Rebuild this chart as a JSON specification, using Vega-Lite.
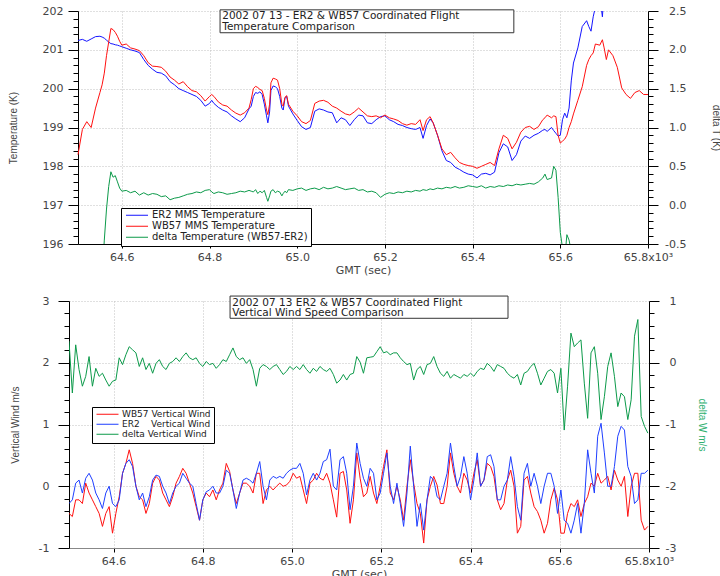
{
"$schema": "https://vega.github.io/schema/vega-lite/v6.json",
"background": "white",
"padding": {"left": 8, "top": 5, "right": 0, "bottom": 0},
"spacing": 20,
"config": {
  "view": {"stroke": null},
  "font": "DejaVu Sans",
  "axis": {"domainColor": "#000", "tickColor": "#000", "labelColor": "#444", "titleColor": "#444", "labelFont": "DejaVu Sans", "labelFontSize": 11, "titleFont": "DejaVu Sans", "titleFontSize": 11, "titleFontWeight": "normal", "gridColor": "#c0c0c0", "gridDash": [1, 2], "labelFlush": false, "labelOverlap": false},
  "legend": {"orient": "none", "title": null, "strokeColor": "#000", "fillColor": "#fff", "labelFont": "DejaVu Sans", "labelColor": "#222", "labelLimit": 0, "symbolStrokeWidth": 1, "symbolType": "M-0.75,0H4.75", "symbolSize": 64, "clipHeight": 8.5, "rowPadding": 0}
},
"datasets": {
"temp": [
{"t":64.50,"E":201.24,"W":198.30,"D":-2.0},{"t":64.51,"E":201.27,"W":198.95,"D":-2.0},{"t":64.52,"E":201.22,"W":199.15,"D":-1.9},{"t":64.53,"E":201.28,"W":199.00,"D":-1.8},{"t":64.54,"E":201.34,"W":199.50,"D":-1.5},{"t":64.55,"E":201.35,"W":199.90,"D":-1.1},{"t":64.555,"E":201.33,"W":200.10,"D":-0.9},{"t":64.56,"E":201.30,"W":200.40,"D":-0.45},{"t":64.565,"E":201.25,"W":200.85,"D":-0.05},{"t":64.57,"E":201.20,"W":201.20,"D":0.24},{"t":64.575,"E":201.16,"W":201.55,"D":0.43},{"t":64.58,"E":201.15,"W":201.52,"D":0.36},{"t":64.585,"E":201.13,"W":201.45,"D":0.38},{"t":64.59,"E":201.12,"W":201.35,"D":0.30},{"t":64.595,"E":201.10,"W":201.22,"D":0.22},{"t":64.60,"E":201.08,"W":201.12,"D":0.18},{"t":64.61,"E":201.04,"W":201.15,"D":0.19},{"t":64.62,"E":201.00,"W":201.05,"D":0.16},{"t":64.63,"E":200.97,"W":201.02,"D":0.18},{"t":64.64,"E":200.93,"W":200.98,"D":0.13},{"t":64.65,"E":200.75,"W":200.85,"D":0.16},{"t":64.66,"E":200.60,"W":200.67,"D":0.13},{"t":64.67,"E":200.50,"W":200.58,"D":0.15},{"t":64.68,"E":200.42,"W":200.57,"D":0.14},{"t":64.69,"E":200.40,"W":200.55,"D":0.11},{"t":64.70,"E":200.33,"W":200.45,"D":0.12},{"t":64.71,"E":200.18,"W":200.30,"D":0.07},{"t":64.72,"E":200.10,"W":200.22,"D":0.09},{"t":64.73,"E":200.00,"W":200.12,"D":0.10},{"t":64.74,"E":199.95,"W":200.18,"D":0.12},{"t":64.75,"E":199.90,"W":200.05,"D":0.14},{"t":64.76,"E":199.85,"W":199.95,"D":0.15},{"t":64.77,"E":199.80,"W":199.92,"D":0.17},{"t":64.78,"E":199.70,"W":199.82,"D":0.16},{"t":64.79,"E":199.55,"W":199.68,"D":0.19},{"t":64.80,"E":199.62,"W":199.80,"D":0.20},{"t":64.805,"E":199.70,"W":199.85,"D":0.17},{"t":64.81,"E":199.62,"W":199.80,"D":0.15},{"t":64.82,"E":199.52,"W":199.66,"D":0.17},{"t":64.83,"E":199.45,"W":199.58,"D":0.16},{"t":64.84,"E":199.40,"W":199.55,"D":0.14},{"t":64.85,"E":199.30,"W":199.45,"D":0.15},{"t":64.86,"E":199.22,"W":199.37,"D":0.16},{"t":64.87,"E":199.15,"W":199.32,"D":0.18},{"t":64.88,"E":199.25,"W":199.38,"D":0.17},{"t":64.89,"E":199.48,"W":199.50,"D":0.19},{"t":64.895,"E":199.55,"W":199.72,"D":0.18},{"t":64.90,"E":199.80,"W":200.00,"D":0.17},{"t":64.905,"E":199.90,"W":200.06,"D":0.20},{"t":64.91,"E":199.88,"W":200.03,"D":0.15},{"t":64.915,"E":199.92,"W":199.98,"D":0.18},{"t":64.92,"E":199.85,"W":199.95,"D":0.16},{"t":64.925,"E":199.60,"W":199.75,"D":0.19},{"t":64.93,"E":199.30,"W":199.45,"D":0.10},{"t":64.933,"E":199.12,"W":199.33,"D":0.05},{"t":64.937,"E":199.40,"W":199.60,"D":0.12},{"t":64.94,"E":199.95,"W":200.15,"D":0.18},{"t":64.945,"E":200.07,"W":200.27,"D":0.20},{"t":64.95,"E":200.05,"W":200.25,"D":0.16},{"t":64.955,"E":200.00,"W":200.22,"D":0.18},{"t":64.96,"E":199.80,"W":200.00,"D":0.17},{"t":64.965,"E":199.50,"W":199.60,"D":0.12},{"t":64.968,"E":199.45,"W":199.55,"D":0.15},{"t":64.972,"E":199.75,"W":199.78,"D":0.18},{"t":64.976,"E":199.80,"W":199.82,"D":0.16},{"t":64.98,"E":199.55,"W":199.60,"D":0.20},{"t":64.99,"E":199.35,"W":199.42,"D":0.19},{"t":65.00,"E":199.18,"W":199.30,"D":0.21},{"t":65.01,"E":199.02,"W":199.15,"D":0.22},{"t":65.02,"E":198.95,"W":199.10,"D":0.19},{"t":65.03,"E":199.00,"W":199.18,"D":0.21},{"t":65.04,"E":199.42,"W":199.62,"D":0.22},{"t":65.05,"E":199.48,"W":199.68,"D":0.20},{"t":65.06,"E":199.45,"W":199.70,"D":0.23},{"t":65.07,"E":199.40,"W":199.65,"D":0.21},{"t":65.08,"E":199.38,"W":199.55,"D":0.22},{"t":65.09,"E":199.12,"W":199.50,"D":0.24},{"t":65.10,"E":199.25,"W":199.42,"D":0.22},{"t":65.11,"E":199.20,"W":199.35,"D":0.20},{"t":65.12,"E":199.05,"W":199.32,"D":0.21},{"t":65.13,"E":199.20,"W":199.40,"D":0.22},{"t":65.14,"E":199.32,"W":199.50,"D":0.19},{"t":65.15,"E":199.30,"W":199.40,"D":0.20},{"t":65.16,"E":199.12,"W":199.30,"D":0.17},{"t":65.17,"E":199.10,"W":199.28,"D":0.18},{"t":65.18,"E":199.20,"W":199.30,"D":0.16},{"t":65.19,"E":199.28,"W":199.25,"D":0.10},{"t":65.20,"E":199.30,"W":199.32,"D":0.14},{"t":65.21,"E":199.20,"W":199.25,"D":0.16},{"t":65.22,"E":199.15,"W":199.22,"D":0.15},{"t":65.23,"E":199.08,"W":199.18,"D":0.17},{"t":65.24,"E":199.05,"W":199.10,"D":0.16},{"t":65.25,"E":199.00,"W":199.06,"D":0.18},{"t":65.26,"E":198.97,"W":199.10,"D":0.17},{"t":65.27,"E":198.95,"W":199.08,"D":0.19},{"t":65.28,"E":199.00,"W":199.20,"D":0.18},{"t":65.287,"E":198.72,"W":198.92,"D":0.20},{"t":65.295,"E":199.05,"W":199.20,"D":0.19},{"t":65.303,"E":199.22,"W":199.28,"D":0.21},{"t":65.31,"E":199.12,"W":199.12,"D":0.20},{"t":65.32,"E":198.80,"W":198.80,"D":0.22},{"t":65.33,"E":198.40,"W":198.45,"D":0.21},{"t":65.34,"E":198.15,"W":198.30,"D":0.23},{"t":65.35,"E":198.10,"W":198.36,"D":0.22},{"t":65.36,"E":197.98,"W":198.22,"D":0.24},{"t":65.37,"E":197.92,"W":198.10,"D":0.22},{"t":65.38,"E":197.85,"W":198.05,"D":0.23},{"t":65.39,"E":197.80,"W":198.02,"D":0.25},{"t":65.40,"E":197.78,"W":198.00,"D":0.24},{"t":65.41,"E":197.70,"W":197.95,"D":0.23},{"t":65.42,"E":197.80,"W":198.00,"D":0.25},{"t":65.43,"E":197.82,"W":198.05,"D":0.22},{"t":65.44,"E":197.78,"W":198.10,"D":0.24},{"t":65.45,"E":197.85,"W":198.02,"D":0.23},{"t":65.46,"E":198.35,"W":198.45,"D":0.25},{"t":65.47,"E":198.58,"W":198.80,"D":0.24},{"t":65.48,"E":198.50,"W":198.72,"D":0.26},{"t":65.49,"E":198.15,"W":198.45,"D":0.25},{"t":65.50,"E":198.30,"W":198.62,"D":0.27},{"t":65.51,"E":198.65,"W":198.88,"D":0.26},{"t":65.52,"E":198.78,"W":199.00,"D":0.27},{"t":65.53,"E":198.72,"W":199.03,"D":0.28},{"t":65.54,"E":198.80,"W":198.95,"D":0.27},{"t":65.55,"E":198.85,"W":199.02,"D":0.30},{"t":65.56,"E":198.93,"W":199.20,"D":0.35},{"t":65.565,"E":198.95,"W":199.25,"D":0.40},{"t":65.57,"E":198.90,"W":199.32,"D":0.33},{"t":65.58,"E":199.00,"W":199.25,"D":0.35},{"t":65.585,"E":198.92,"W":199.30,"D":0.50},{"t":65.59,"E":198.85,"W":199.28,"D":0.45},{"t":65.595,"E":198.78,"W":198.80,"D":0.10},{"t":65.60,"E":198.80,"W":198.60,"D":-0.35},{"t":65.605,"E":199.20,"W":198.65,"D":-0.55},{"t":65.61,"E":199.37,"W":198.70,"D":-0.70},{"t":65.615,"E":199.25,"W":198.80,"D":-0.38},{"t":65.62,"E":199.50,"W":199.00,"D":-0.45},{"t":65.625,"E":200.20,"W":199.15,"D":-0.60},{"t":65.63,"E":200.66,"W":199.35,"D":-0.9},{"t":65.64,"E":201.05,"W":199.70,"D":-1.2},{"t":65.65,"E":201.60,"W":200.05,"D":-1.4},{"t":65.66,"E":201.75,"W":200.60,"D":-1.2},{"t":65.665,"E":201.60,"W":200.75,"D":-0.8},{"t":65.67,"E":201.48,"W":200.85,"D":-0.7},{"t":65.675,"E":201.85,"W":200.92,"D":-0.9},{"t":65.68,"E":202.10,"W":201.15,"D":-0.9},{"t":65.69,"E":202.40,"W":201.12,"D":-1.3},{"t":65.696,"E":201.85,"W":201.26,"D":-1.3},{"t":65.70,"E":202.50,"W":201.05,"D":-1.5},{"t":65.705,"E":202.70,"W":200.75,"D":-1.9},{"t":65.71,"E":202.70,"W":201.00,"D":-1.7},{"t":65.72,"E":202.80,"W":200.85,"D":-1.9},{"t":65.73,"E":202.90,"W":200.55,"D":-2.3},{"t":65.74,"E":202.90,"W":200.02,"D":-2.8},{"t":65.75,"E":203.00,"W":199.85,"D":-3.0},{"t":65.76,"E":203.00,"W":199.75,"D":-3.2},{"t":65.77,"E":203.00,"W":199.90,"D":-3.1},{"t":65.78,"E":203.00,"W":199.95,"D":-3.0},{"t":65.79,"E":203.00,"W":199.85,"D":-3.1},{"t":65.80,"E":203.00,"W":199.85,"D":-3.1}
],
"wind": [
{"t":64.5,"W":-0.44,"E":-0.28,"D":0.35},{"t":64.5075,"W":-0.49,"E":-0.22,"D":-0.49},{"t":64.515,"W":-0.22,"E":0.05,"D":0.29},{"t":64.5225,"W":-0.22,"E":0.10,"D":-0.11},{"t":64.53,"W":-0.28,"E":-0.11,"D":-0.38},{"t":64.5375,"W":0.05,"E":0.13,"D":-0.22},{"t":64.545,"W":-0.11,"E":0.21,"D":0.10},{"t":64.5525,"W":-0.22,"E":0.10,"D":-0.38},{"t":64.56,"W":-0.33,"E":-0.11,"D":-0.09},{"t":64.5675,"W":-0.44,"E":-0.22,"D":-0.22},{"t":64.575,"W":-0.65,"E":-0.36,"D":-0.17},{"t":64.5825,"W":-0.44,"E":-0.11,"D":-0.28},{"t":64.59,"W":-0.33,"E":0.0,"D":-0.38},{"t":64.5975,"W":-0.76,"E":-0.28,"D":-0.30},{"t":64.605,"W":-0.44,"E":-0.33,"D":-0.28},{"t":64.6125,"W":-0.17,"E":-0.22,"D":0.08},{"t":64.62,"W":0.21,"E":0.21,"D":-0.03},{"t":64.6275,"W":0.37,"E":0.37,"D":0.13},{"t":64.635,"W":0.59,"E":0.43,"D":0.26},{"t":64.6425,"W":0.37,"E":0.32,"D":0.21},{"t":64.65,"W":0.0,"E":0.0,"D":0.16},{"t":64.6575,"W":-0.17,"E":-0.22,"D":-0.06},{"t":64.665,"W":-0.22,"E":-0.11,"D":0.08},{"t":64.6725,"W":-0.44,"E":-0.33,"D":-0.11},{"t":64.68,"W":-0.28,"E":-0.17,"D":-0.01},{"t":64.6875,"W":0.05,"E":0.10,"D":-0.17},{"t":64.695,"W":0.16,"E":0.18,"D":-0.01},{"t":64.7025,"W":0.10,"E":0.16,"D":0.05},{"t":64.71,"W":-0.11,"E":0.0,"D":-0.06},{"t":64.7175,"W":-0.22,"E":-0.11,"D":-0.11},{"t":64.725,"W":-0.33,"E":-0.28,"D":-0.01},{"t":64.7325,"W":-0.17,"E":-0.11,"D":0.02},{"t":64.74,"W":0.05,"E":0.0,"D":0.08},{"t":64.7475,"W":0.16,"E":0.05,"D":0.02},{"t":64.755,"W":0.29,"E":0.21,"D":0.10},{"t":64.7625,"W":0.21,"E":0.13,"D":0.16},{"t":64.77,"W":0.05,"E":0.05,"D":0.08},{"t":64.7775,"W":-0.11,"E":0.0,"D":0.05},{"t":64.785,"W":-0.33,"E":-0.28,"D":0.08},{"t":64.7925,"W":-0.55,"E":-0.55,"D":-0.01},{"t":64.8,"W":-0.22,"E":-0.22,"D":-0.06},{"t":64.8075,"W":-0.11,"E":-0.09,"D":0.02},{"t":64.815,"W":-0.17,"E":-0.06,"D":-0.03},{"t":64.8225,"W":-0.06,"E":0.0,"D":-0.01},{"t":64.83,"W":-0.22,"E":-0.11,"D":-0.09},{"t":64.8375,"W":-0.06,"E":-0.11,"D":-0.03},{"t":64.845,"W":0.05,"E":0.0,"D":0.05},{"t":64.8525,"W":0.37,"E":0.26,"D":0.02},{"t":64.86,"W":0.24,"E":0.21,"D":0.13},{"t":64.8675,"W":-0.06,"E":-0.06,"D":0.24},{"t":64.875,"W":-0.28,"E":-0.36,"D":0.10},{"t":64.8825,"W":-0.11,"E":-0.11,"D":0.05},{"t":64.89,"W":0.05,"E":0.10,"D":0.08},{"t":64.8975,"W":0.05,"E":0.13,"D":-0.01},{"t":64.905,"W":0.0,"E":0.10,"D":0.05},{"t":64.9125,"W":-0.11,"E":0.05,"D":-0.11},{"t":64.92,"W":0.21,"E":0.21,"D":-0.38},{"t":64.9275,"W":0.21,"E":0.40,"D":-0.09},{"t":64.935,"W":-0.28,"E":0.0,"D":-0.03},{"t":64.9425,"W":-0.06,"E":-0.22,"D":-0.06},{"t":64.95,"W":0.0,"E":0.10,"D":-0.11},{"t":64.9575,"W":-0.06,"E":0.16,"D":-0.06},{"t":64.965,"W":0.0,"E":0.13,"D":-0.03},{"t":64.9725,"W":0.05,"E":0.16,"D":-0.11},{"t":64.98,"W":0.0,"E":0.13,"D":-0.19},{"t":64.9875,"W":0.02,"E":0.21,"D":-0.14},{"t":64.995,"W":0.08,"E":0.26,"D":-0.06},{"t":65.0025,"W":0.21,"E":0.29,"D":-0.11},{"t":65.01,"W":0.13,"E":0.29,"D":-0.06},{"t":65.0175,"W":0.16,"E":0.37,"D":-0.11},{"t":65.025,"W":-0.06,"E":0.21,"D":-0.03},{"t":65.0325,"W":-0.28,"E":-0.14,"D":-0.11},{"t":65.04,"W":0.05,"E":0.10,"D":-0.17},{"t":65.0475,"W":0.10,"E":0.21,"D":-0.09},{"t":65.055,"W":0.21,"E":0.10,"D":-0.14},{"t":65.0625,"W":0.13,"E":0.21,"D":-0.06},{"t":65.07,"W":0.10,"E":0.40,"D":-0.11},{"t":65.0775,"W":0.21,"E":0.43,"D":-0.14},{"t":65.085,"W":0.05,"E":0.60,"D":-0.09},{"t":65.0925,"W":-0.22,"E":0.0,"D":-0.19},{"t":65.1,"W":-0.50,"E":-0.06,"D":-0.33},{"t":65.1075,"W":0.21,"E":0.43,"D":-0.28},{"t":65.115,"W":0.24,"E":0.48,"D":-0.19},{"t":65.1225,"W":-0.06,"E":0.21,"D":-0.28},{"t":65.13,"W":-0.60,"E":-0.38,"D":-0.19},{"t":65.1375,"W":-0.22,"E":0.0,"D":-0.17},{"t":65.145,"W":0.54,"E":0.70,"D":0.10},{"t":65.1525,"W":0.13,"E":0.37,"D":0.01},{"t":65.16,"W":-0.17,"E":0.13,"D":-0.17},{"t":65.1675,"W":-0.11,"E":0.0,"D":0.08},{"t":65.175,"W":0.16,"E":0.29,"D":0.09},{"t":65.1825,"W":-0.11,"E":0.21,"D":0.10},{"t":65.19,"W":-0.28,"E":-0.22,"D":0.18},{"t":65.1975,"W":0.0,"E":-0.11,"D":0.26},{"t":65.205,"W":0.32,"E":0.21,"D":0.16},{"t":65.2125,"W":0.59,"E":0.54,"D":0.18},{"t":65.22,"W":-0.11,"E":0.0,"D":0.13},{"t":65.2275,"W":-0.22,"E":-0.28,"D":0.16},{"t":65.235,"W":0.0,"E":0.05,"D":0.16},{"t":65.2425,"W":-0.22,"E":-0.28,"D":0.08},{"t":65.25,"W":-0.55,"E":-0.65,"D":0.02},{"t":65.2575,"W":0.0,"E":-0.11,"D":-0.03},{"t":65.265,"W":0.43,"E":0.65,"D":-0.01},{"t":65.2725,"W":0.05,"E":0.0,"D":-0.28},{"t":65.28,"W":-0.28,"E":-0.65,"D":-0.11},{"t":65.2875,"W":-0.44,"E":-0.28,"D":-0.06},{"t":65.295,"W":-0.92,"E":-0.71,"D":-0.19},{"t":65.3025,"W":-0.22,"E":-0.22,"D":-0.03},{"t":65.31,"W":0.0,"E":0.16,"D":-0.01},{"t":65.3175,"W":0.16,"E":0.10,"D":0.10},{"t":65.325,"W":0.02,"E":-0.17,"D":-0.06},{"t":65.3325,"W":-0.28,"E":-0.22,"D":-0.17},{"t":65.34,"W":-0.28,"E":0.0,"D":-0.22},{"t":65.3475,"W":0.0,"E":0.21,"D":-0.14},{"t":65.355,"W":0.54,"E":0.70,"D":-0.25},{"t":65.3625,"W":0.21,"E":0.32,"D":-0.19},{"t":65.37,"W":0.0,"E":0.0,"D":-0.22},{"t":65.3775,"W":-0.11,"E":0.16,"D":-0.25},{"t":65.385,"W":0.21,"E":0.48,"D":-0.19},{"t":65.3925,"W":0.10,"E":0.21,"D":-0.22},{"t":65.4,"W":-0.11,"E":-0.22,"D":-0.17},{"t":65.4075,"W":0.21,"E":0.10,"D":-0.22},{"t":65.415,"W":0.43,"E":0.54,"D":-0.14},{"t":65.4225,"W":0.0,"E":0.0,"D":-0.09},{"t":65.43,"W":0.10,"E":0.10,"D":-0.11},{"t":65.4375,"W":0.37,"E":0.48,"D":-0.01},{"t":65.445,"W":0.32,"E":0.51,"D":-0.06},{"t":65.4525,"W":0.16,"E":0.32,"D":-0.14},{"t":65.46,"W":-0.22,"E":-0.22,"D":-0.03},{"t":65.4675,"W":-0.38,"E":-0.22,"D":-0.06},{"t":65.475,"W":-0.28,"E":0.0,"D":-0.09},{"t":65.4825,"W":0.10,"E":0.10,"D":-0.17},{"t":65.49,"W":0.26,"E":0.48,"D":-0.22},{"t":65.4975,"W":0.0,"E":0.16,"D":-0.25},{"t":65.505,"W":-0.76,"E":-0.33,"D":-0.19},{"t":65.5125,"W":-0.65,"E":-0.55,"D":-0.36},{"t":65.52,"W":0.10,"E":0.21,"D":-0.17},{"t":65.5275,"W":0.16,"E":0.37,"D":-0.14},{"t":65.535,"W":-0.11,"E":0.0,"D":-0.06},{"t":65.5425,"W":-0.33,"E":0.21,"D":-0.01},{"t":65.55,"W":-0.41,"E":0.0,"D":-0.17},{"t":65.5575,"W":-0.55,"E":-0.28,"D":-0.36},{"t":65.565,"W":-0.76,"E":0.0,"D":-0.25},{"t":65.5725,"W":-0.60,"E":0.21,"D":-0.14},{"t":65.58,"W":-0.22,"E":0.21,"D":-0.11},{"t":65.5875,"W":-0.03,"E":0.0,"D":-0.17},{"t":65.595,"W":-0.22,"E":-0.44,"D":-0.49},{"t":65.6025,"W":-0.76,"E":-0.06,"D":-0.09},{"t":65.61,"W":-0.76,"E":-0.55,"D":-1.09},{"t":65.6175,"W":-0.44,"E":-0.60,"D":-0.38},{"t":65.625,"W":-0.28,"E":-0.76,"D":0.48},{"t":65.6325,"W":-0.33,"E":-0.55,"D":0.26},{"t":65.64,"W":-0.22,"E":-0.28,"D":0.32},{"t":65.6475,"W":-0.49,"E":-0.76,"D":0.37},{"t":65.655,"W":-0.28,"E":-0.28,"D":-0.33},{"t":65.6625,"W":-0.17,"E":0.59,"D":-0.90},{"t":65.67,"W":0.05,"E":0.21,"D":0.16},{"t":65.6775,"W":0.0,"E":-0.11,"D":0.26},{"t":65.685,"W":0.21,"E":0.81,"D":-0.17},{"t":65.6925,"W":0.05,"E":1.02,"D":-0.92},{"t":65.7,"W":0.10,"E":0.54,"D":-0.55},{"t":65.7075,"W":0.16,"E":0.0,"D":-0.06},{"t":65.715,"W":-0.06,"E":0.0,"D":0.16},{"t":65.7225,"W":0.26,"E":0.32,"D":-0.22},{"t":65.73,"W":0.10,"E":0.81,"D":-0.71},{"t":65.7375,"W":0.0,"E":0.97,"D":-0.49},{"t":65.745,"W":0.16,"E":0.91,"D":-0.55},{"t":65.7525,"W":-0.49,"E":0.32,"D":-0.92},{"t":65.76,"W":0.0,"E":0.16,"D":-0.60},{"t":65.7675,"W":0.21,"E":-0.28,"D":0.43},{"t":65.775,"W":0.21,"E":-0.22,"D":0.70},{"t":65.7825,"W":-0.55,"E":0.21,"D":-0.87},{"t":65.79,"W":-0.71,"E":0.21,"D":-1.03},{"t":65.7975,"W":-0.65,"E":0.26,"D":-1.14}
],
"one": [{"k": 1}]
},
"vconcat": [
{
  "width": 579, "height": 233,
  "layer": [
    {"data": {"name": "temp"},
     "transform": [{"fold": ["E", "W"], "as": ["ts", "tv"]}],
     "mark": {"type": "line", "strokeWidth": 1, "clip": true},
     "encoding": {
       "x": {"field": "t", "type": "quantitative", "scale": {"domain": [64.5, 65.8], "range": [9, 579], "nice": false, "zero": false},
         "axis": {"title": "GMT (sec)", "values": [64.6, 64.8, 65.0, 65.2, 65.4, 65.6, 65.8], "labelExpr": "datum.value > 65.79 ? '65.8x10³' : format(datum.value, '.1f')", "tickSize": 4, "labelPadding": 3, "titlePadding": 2, "grid": true}},
       "y": {"field": "tv", "type": "quantitative", "scale": {"domain": [196, 202], "nice": false, "zero": false},
         "axis": {"orient": "left", "offset": -9, "values": [196, 197, 198, 199, 200, 201, 202], "format": "d", "tickSize": 10, "labelPadding": 5, "title": "Temperature (K)", "titleFont": "Liberation Sans", "titleFontSize": 10, "titlePadding": 24, "grid": true}},
       "color": {"field": "ts", "type": "nominal", "scale": {"domain": ["E", "W", "D"], "range": ["#1414ff", "#ff1010", "#0c9a4a"]},
         "legend": {"legendX": 52, "legendY": 197, "labelFontSize": 10, "padding": 3, "labelOffset": 18, "labelExpr": "datum.label == 'E' ? 'ER2 MMS Temperature' : datum.label == 'W' ? 'WB57 MMS Temperature' : 'delta Temperature (WB57-ER2)'"}}
     }},
    {"data": {"name": "temp"},
     "transform": [{"fold": ["D"], "as": ["ts", "tv"]}],
     "mark": {"type": "line", "strokeWidth": 1, "clip": true},
     "encoding": {
       "x": {"field": "t", "type": "quantitative", "scale": {"domain": [64.5, 65.8], "range": [9, 579], "nice": false, "zero": false},
         "axis": {"title": "GMT (sec)", "values": [64.6, 64.8, 65.0, 65.2, 65.4, 65.6, 65.8], "labelExpr": "datum.value > 65.79 ? '65.8x10³' : format(datum.value, '.1f')", "tickSize": 4, "labelPadding": 3, "titlePadding": 2, "grid": true}},
       "y": {"field": "tv", "type": "quantitative", "scale": {"domain": [-0.5, 2.5], "nice": false, "zero": false},
         "axis": {"orient": "right", "values": [-0.5, 0, 0.5, 1, 1.5, 2, 2.5], "labelExpr": "datum.value < 0 ? '-' + format(-datum.value, '.1f') : format(datum.value, '.1f')", "tickSize": 10, "labelAlign": "right", "labelPadding": 28, "title": "delta T (K)", "titleFont": "Liberation Sans", "titleFontSize": 10, "titleAngle": 90, "titlePadding": 24, "grid": false}},
       "color": {"field": "ts", "type": "nominal"}
     }},
    {"data": {"name": "one"},
     "mark": {"type": "point", "opacity": 0},
     "encoding": {"x": {"datum": 65.0, "type": "quantitative"}, "y": {"datum": 199, "type": "quantitative", "scale": {"domain": [196, 202], "nice": false, "zero": false},
       "axis": {"orient": "left", "offset": -9, "values": [196.2, 196.4, 196.6, 196.8, 197.2, 197.4, 197.6, 197.8, 198.2, 198.4, 198.6, 198.8, 199.2, 199.4, 199.6, 199.8, 200.2, 200.4, 200.6, 200.8, 201.2, 201.4, 201.6, 201.8], "tickSize": 5, "labels": false, "domain": false, "grid": false, "title": null}}}},
    {"data": {"name": "one"},
     "mark": {"type": "point", "opacity": 0},
     "encoding": {"x": {"datum": 65.0, "type": "quantitative"}, "y": {"datum": 1, "type": "quantitative", "scale": {"domain": [-0.5, 2.5], "nice": false, "zero": false},
       "axis": {"orient": "right", "values": [-0.4, -0.3, -0.2, -0.1, 0.1, 0.2, 0.3, 0.4, 0.6, 0.7, 0.8, 0.9, 1.1, 1.2, 1.3, 1.4, 1.6, 1.7, 1.8, 1.9, 2.1, 2.2, 2.3, 2.4], "tickSize": 5, "labels": false, "domain": false, "grid": false, "title": null}}}},
    {"data": {"name": "one"},
     "mark": {"type": "rect", "fill": "white", "stroke": "#333", "strokeWidth": 1},
     "encoding": {
       "x": {"datum": 64.824, "type": "quantitative"}, "x2": {"datum": 65.494},
       "y": {"datum": 202.03, "type": "quantitative", "scale": {"domain": [196, 202], "nice": false, "zero": false}, "axis": null}, "y2": {"datum": 201.44}
     }},
    {"data": {"name": "one"},
     "mark": {"type": "text", "align": "left", "baseline": "top", "font": "DejaVu Sans", "fontSize": 10.5, "lineHeight": 10.5, "color": "#222", "text": ["2002 07 13 - ER2 & WB57 Coordinated Flight", "Temperature Comparison"]},
     "encoding": {
       "x": {"datum": 64.829, "type": "quantitative"},
       "y": {"datum": 202.0, "type": "quantitative", "scale": {"domain": [196, 202], "nice": false, "zero": false}, "axis": null}
     }}
  ],
  "resolve": {"scale": {"y": "independent"}}
},
{
  "width": 580, "height": 247,
  "layer": [
    {"data": {"name": "wind"},
     "transform": [{"fold": ["W", "E"], "as": ["ws", "wv"]}],
     "mark": {"type": "line", "strokeWidth": 1, "clip": true},
     "encoding": {
       "x": {"field": "t", "type": "quantitative", "scale": {"domain": [64.5, 65.8], "nice": false, "zero": false},
         "axis": {"title": "GMT (sec)", "values": [64.6, 64.8, 65.0, 65.2, 65.4, 65.6, 65.8], "labelExpr": "datum.value > 65.79 ? '65.8x10³' : format(datum.value, '.1f')", "tickSize": 4, "labelPadding": 3, "titlePadding": 2, "grid": true, "domainColor": "#888"}},
       "y": {"field": "wv", "type": "quantitative", "scale": {"domain": [-1, 3], "nice": false, "zero": false},
         "axis": {"orient": "left", "values": [-1, 0, 1, 2, 3], "labelExpr": "'' + datum.value", "tickSize": 11, "labelPadding": 9, "title": "Vertical Wind m/s", "titleFont": "Liberation Sans", "titleFontSize": 10, "titlePadding": 18, "grid": true}},
       "color": {"field": "ws", "type": "nominal", "scale": {"domain": ["W", "E", "D"], "range": ["#ff1010", "#1f3fff", "#0c9a4a"]},
         "legend": {"legendX": 23, "legendY": 106, "labelFontSize": 9, "padding": 3, "labelOffset": 18, "labelExpr": "datum.label == 'W' ? 'WB57 Vertical Wind' : datum.label == 'E' ? 'ER2\u00a0\u00a0\u00a0\u00a0Vertical Wind' : 'delta Vertical Wind'"}}
     }},
    {"data": {"name": "wind"},
     "transform": [{"fold": ["D"], "as": ["ws", "wv"]}],
     "mark": {"type": "line", "strokeWidth": 1, "clip": true},
     "encoding": {
       "x": {"field": "t", "type": "quantitative", "scale": {"domain": [64.5, 65.8], "nice": false, "zero": false},
         "axis": {"title": "GMT (sec)", "values": [64.6, 64.8, 65.0, 65.2, 65.4, 65.6, 65.8], "labelExpr": "datum.value > 65.79 ? '65.8x10³' : format(datum.value, '.1f')", "tickSize": 4, "labelPadding": 3, "titlePadding": 2, "grid": true, "domainColor": "#888"}},
       "y": {"field": "wv", "type": "quantitative", "scale": {"domain": [-3, 1], "nice": false, "zero": false},
         "axis": {"orient": "right", "values": [-3, -2, -1, 0, 1], "labelExpr": "'' + datum.value", "tickSize": 10, "labelAlign": "right", "labelPadding": 17, "title": "delta W m/s", "titleColor": "#2fb070", "titleFont": "Liberation Sans", "titleFontSize": 10, "titleAngle": 90, "titlePadding": 20, "grid": false}},
       "color": {"field": "ws", "type": "nominal"}
     }},
    {"data": {"name": "one"},
     "mark": {"type": "point", "opacity": 0},
     "encoding": {"x": {"datum": 65.0, "type": "quantitative"}, "y": {"datum": 1, "type": "quantitative", "scale": {"domain": [-1, 3], "nice": false, "zero": false},
       "axis": {"orient": "left", "values": [-0.8, -0.6, -0.4, -0.2, 0.2, 0.4, 0.6, 0.8, 1.2, 1.4, 1.6, 1.8, 2.2, 2.4, 2.6, 2.8], "tickSize": 5, "labels": false, "domain": false, "grid": false, "title": null}}}},
    {"data": {"name": "one"},
     "mark": {"type": "point", "opacity": 0},
     "encoding": {"x": {"datum": 65.0, "type": "quantitative"}, "y": {"datum": -1, "type": "quantitative", "scale": {"domain": [-3, 1], "nice": false, "zero": false},
       "axis": {"orient": "right", "values": [-2.8, -2.6, -2.4, -2.2, -1.8, -1.6, -1.4, -1.2, -0.8, -0.6, -0.4, -0.2, 0.2, 0.4, 0.6, 0.8], "tickSize": 5, "labels": false, "domain": false, "grid": false, "title": null}}}},
    {"data": {"name": "one"},
     "mark": {"type": "rect", "fill": "white", "stroke": "#333", "strokeWidth": 1},
     "encoding": {
       "x": {"datum": 64.861, "type": "quantitative"}, "x2": {"datum": 65.484},
       "y": {"datum": 3.08, "type": "quantitative", "scale": {"domain": [-1, 3], "nice": false, "zero": false}, "axis": null}, "y2": {"datum": 2.72}
     }},
    {"data": {"name": "one"},
     "mark": {"type": "text", "align": "left", "baseline": "top", "font": "DejaVu Sans", "fontSize": 10.5, "lineHeight": 10.5, "color": "#222", "text": ["2002 07 13 ER2 & WB57 Coordinated Flight", "Vertical Wind Speed Comparison"]},
     "encoding": {
       "x": {"datum": 64.866, "type": "quantitative"},
       "y": {"datum": 3.055, "type": "quantitative", "scale": {"domain": [-1, 3], "nice": false, "zero": false}, "axis": null}
     }}
  ],
  "resolve": {"scale": {"y": "independent"}}
}
],
"resolve": {"scale": {"color": "independent", "x": "independent"}, "legend": {"color": "independent"}}
}
